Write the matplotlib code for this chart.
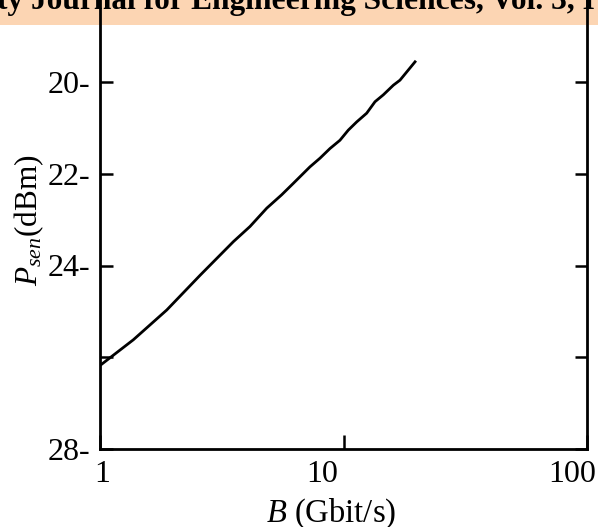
import matplotlib.pyplot as plt
import matplotlib.transforms as mtransforms
from matplotlib.patches import Rectangle

plt.rcParams['font.family'] = 'Liberation Serif'
plt.rcParams['mathtext.fontset'] = 'custom'
plt.rcParams['mathtext.rm'] = 'Liberation Serif'
plt.rcParams['mathtext.it'] = 'Liberation Serif:italic'

# sensitivity vs bit rate
bit_rate = [1.00, 1.37, 1.88, 2.58, 3.53, 4.13, 4.84, 5.57, 6.22, 7.28, 8.01,
            8.80, 9.67, 10.46, 11.33, 12.45, 13.47, 14.57, 16.02, 17.06, 19.67]
p_sen = [26.18, 25.62, 24.97, 24.21, 23.48, 23.15, 22.75, 22.46, 22.21, 21.85,
         21.66, 21.45, 21.27, 21.05, 20.87, 20.68, 20.43, 20.28, 20.07, 19.96,
         19.56]

x_ticks = [1, 10, 100]
x_tick_labels = ['1', '10', '100']
x_label_shift = [2, -21, -15]   # px
y_ticks = [20, 22, 24, 26, 28]
y_tick_labels = ['20-', '22-', '24-', '', '28-']

header = 'ty Journal for Engineering Sciences, Vol. 3, I'

fig = plt.figure(figsize=(5.98, 5.27), dpi=100)
W, H = 598, 527

# journal header strip
fig.patches.append(Rectangle((0, 1 - 25 / H), 1, 25 / H, transform=fig.transFigure,
                             facecolor='#fcd5b3', edgecolor='none', zorder=-2))
fig.text(-3 / W, 1 - 9 / H, header, fontsize=22.6, fontweight='bold',
         va='baseline', ha='left', zorder=-1)

ax = fig.add_axes([100 / W, 78 / H, 487 / W, 449 / H])
ax.set_facecolor('none')

ax.plot(bit_rate, p_sen, color='black', lw=2.0)

ax.set_xscale('log')
ax.set_xlim(1, 100)
ax.set_ylim(28, 20 - 82 / 45.875)

ax.set_xticks(x_ticks)
ax.set_xticklabels(x_tick_labels)
ax.xaxis.set_minor_locator(plt.NullLocator())
ax.set_yticks(y_ticks)
ax.set_yticklabels(y_tick_labels)

ax.tick_params(axis='x', direction='in', length=10, width=1.8, labelsize=23, pad=8)
ax.tick_params(axis='y', direction='in', length=9, width=1.8, labelsize=23, pad=7,
               right=True)

for lbl, dx in zip(ax.get_xticklabels(), x_label_shift):
    lbl.set_transform(lbl.get_transform() +
                      mtransforms.ScaledTranslation(dx / 100, 0, fig.dpi_scale_trans))

for side in ('left', 'right', 'bottom'):
    ax.spines[side].set_linewidth(2.0)
ax.spines['top'].set_visible(False)

ax.set_xlabel(r'$B$ (Gbit/s)', fontsize=23.5)
ax.xaxis.set_label_coords(231 / 487, -48 / 449)
ax.set_ylabel(r'$P_{sen}$(dBm)', fontsize=22.5)
ax.yaxis.set_label_coords(-54 / 487, 229 / 449)

fig.savefig('out.png', dpi=100)
